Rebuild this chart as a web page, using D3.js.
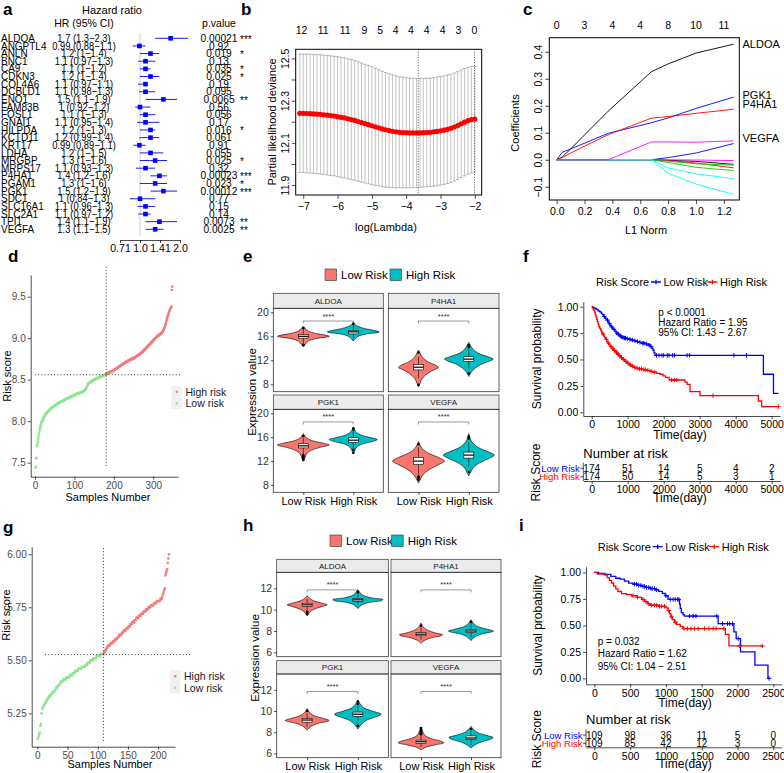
<!DOCTYPE html>
<html>
<head>
<meta charset="utf-8">
<script src="https://cdn.jsdelivr.net/npm/d3@7"></script>
<style>
  body { margin: 0; background: #fff; }
</style>
</head>
<body>
<svg id="fig" width="784" height="773"></svg>
<script>
// ---------------- data: a (univariate cox) ----------------
const genes = ["ALDOA","ANGPTL4","ANLN","BNC1","CA9","CDKN3","COL4A6","DCBLD1","ENO1","FAM83B","FOSL1","GNAI1","HILPDA","KCTD11","KRT17","LDHA","MRGBP","MRPS17","P4HA1","PGAM1","PGK1","SDC1","SLC16A1","SLC2A1","TPI1","VEGFA"];
const hrEst  = [1.7,0.99,1.2,1.1,1.1,1.2,1.1,1.1,1.5,1,1.1,1.1,1.2,1.2,0.99,1.2,1.3,1.1,1.4,1.3,1.5,1,1.1,1.1,1.4,1.3];
const hrLow  = [1.3,0.88,1,0.97,1,1,0.97,0.98,1.1,0.92,1,0.95,1,0.99,0.89,1,1,0.93,1.2,1,1.2,0.84,0.96,0.97,1.1,1.1];
const hrHigh = [2.3,1.1,1.4,1.3,1.2,1.4,1.1,1.3,1.9,1.2,1.3,1.4,1.3,1.4,1.1,1.5,1.6,1.3,1.6,1.6,1.9,1.3,1.3,1.2,1.9,1.5];
const pValues = ["0.00021","0.92","0.019","0.13","0.035","0.025","0.19","0.095","0.0065","0.56","0.056","0.17","0.016","0.061","0.91","0.055","0.025","0.32","0.00023","0.023","0.00012","0.77","0.15","0.14","0.0073","0.0025"];
const forestTicks = [0.7071, 1, 1.4142, 2];
const forestTickLabels = ["0.71", "1.0", "1.41", "2.0"];

// ---------------- data: b (cv.glmnet) ----------------
const lambdaLog = [-7.1,-7.0,-6.9,-6.8,-6.7,-6.6,-6.5,-6.4,-6.3,-6.2,-6.1,-6.0,-5.9,-5.8,-5.7,-5.6,-5.5,-5.4,-5.3,-5.2,-5.1,-5.0,-4.9,-4.8,-4.7,-4.6,-4.5,-4.4,-4.3,-4.2,-4.1,-4.0,-3.9,-3.8,-3.7,-3.6,-3.5,-3.4,-3.3,-3.2,-3.1,-3.0,-2.9,-2.8,-2.7,-2.6,-2.5,-2.4,-2.3,-2.2,-2.1,-2.0];
const cvMean = [12.240,12.240,12.239,12.238,12.237,12.236,12.235,12.233,12.231,12.229,12.227,12.224,12.221,12.218,12.214,12.210,12.206,12.201,12.196,12.191,12.186,12.181,12.176,12.171,12.166,12.162,12.158,12.155,12.152,12.150,12.149,12.148,12.147,12.147,12.147,12.147,12.148,12.149,12.150,12.152,12.154,12.157,12.160,12.164,12.169,12.175,12.182,12.190,12.198,12.205,12.210,12.212];
const cvSd = [0.280,0.280,0.281,0.281,0.281,0.282,0.282,0.282,0.283,0.283,0.283,0.284,0.284,0.284,0.284,0.284,0.283,0.283,0.282,0.281,0.280,0.279,0.277,0.275,0.273,0.271,0.269,0.267,0.265,0.263,0.262,0.261,0.260,0.259,0.258,0.258,0.257,0.257,0.257,0.257,0.257,0.257,0.257,0.257,0.256,0.256,0.255,0.255,0.254,0.253,0.252,0.250];
const nzCount = ["12","11","11","9","5","4","4","4","4","3","0"];
const nzAt = [-7.05,-6.42,-5.78,-5.22,-4.76,-4.31,-3.86,-3.40,-2.94,-2.48,-2.01];
const lambdaMin = -3.65, lambda1se = -2.01;

// ---------------- data: c (coefficient paths) ----------------
const l1Norm = [0, 0.04, 0.1, 0.37, 0.68, 0.8, 1.0, 1.27];
const pathColors = ["#000000","#0000FF","#FF0000","#0000FF","#000000","#FF0000","#00CD00","#00CD00","#FF00FF","#00FFFF","#00FFFF","#FF00FF"];
const pathCoefs = [
  [0, 0.01, 0.04, 0.18, 0.326, 0.355, 0.395, 0.428],    // ALDOA
  [0, 0.028, 0.04, 0.098, 0.137, 0.155, 0.19, 0.232],   // PGK1
  [0, 0.008, 0.025, 0.093, 0.154, 0.16, 0.172, 0.187],  // P4HA1
  [0, 0, 0, 0, 0, 0.008, 0.025, 0.06],
  [0, 0, 0, 0, 0, -0.002, -0.006, -0.017],
  [0, 0, 0, 0, 0, -0.003, -0.012, -0.03],
  [0, 0, 0, 0, 0, -0.01, -0.028, -0.04],
  [0, 0, 0, 0, 0, -0.005, -0.015, -0.02],
  [0, 0, 0, 0, 0, 0, -0.001, -0.003],
  [0, 0, 0, 0, 0, -0.03, -0.052, -0.07],
  [0, 0, 0, 0, 0, -0.05, -0.09, -0.128],
  [0, 0, 0, 0, 0.066, 0.066, 0.065, 0.07]               // VEGFA
];
const pathLabels = ["ALDOA", "PGK1", "P4HA1", "VEGFA"];
const pathLabelAt = [0.43, 0.24, 0.205, 0.082];
const l1Top = ["0", "3", "4", "4", "8", "10", "11"];

// ---------------- data: d (training risk score) ----------------
const dLowScore = [7.44,7.45,7.55,7.56,7.70,7.72,7.75,7.78,7.81,7.84,
  7.87,7.90,7.92,7.94,7.96,7.98,7.99,8.00,8.01,8.02,
  8.03,8.04,8.05,8.06,8.07,8.08,8.08,8.09,8.10,8.10,
  8.11,8.11,8.12,8.12,8.13,8.13,8.14,8.14,8.15,8.15,
  8.16,8.16,8.16,8.17,8.17,8.17,8.18,8.18,8.18,8.19,
  8.19,8.19,8.20,8.20,8.20,8.21,8.21,8.21,8.22,8.22,
  8.22,8.22,8.23,8.23,8.23,8.23,8.24,8.24,8.24,8.24,
  8.25,8.25,8.25,8.25,8.26,8.26,8.26,8.26,8.27,8.27,
  8.27,8.27,8.28,8.28,8.28,8.28,8.29,8.29,8.29,8.29,
  8.30,8.30,8.30,8.30,8.30,8.31,8.31,8.31,8.31,8.31,
  8.32,8.32,8.32,8.32,8.33,8.33,8.33,8.33,8.33,8.34,
  8.34,8.34,8.34,8.34,8.34,8.35,8.35,8.35,8.35,8.35,
  8.35,8.36,8.36,8.36,8.37,8.37,8.38,8.38,8.39,8.40,
  8.41,8.42,8.43,8.44,8.45,8.45,8.46,8.46,8.47,8.47,
  8.47,8.48,8.48,8.48,8.49,8.49,8.49,8.49,8.50,8.50,
  8.50,8.50,8.51,8.51,8.51,8.51,8.52,8.52,8.52,8.52,
  8.52,8.53,8.53,8.53,8.53,8.53,8.54,8.54,8.54,8.54,
  8.54,8.55,8.55,8.55,8.55,8.55,8.56,8.56,8.56,8.56];
const dHighScore = [8.57,8.57,8.57,8.58,8.58,8.58,8.58,8.59,8.59,8.59,
  8.59,8.60,8.60,8.60,8.60,8.60,8.61,8.61,8.61,8.61,
  8.62,8.62,8.62,8.63,8.63,8.63,8.64,8.64,8.64,8.65,
  8.65,8.65,8.66,8.66,8.66,8.67,8.67,8.67,8.68,8.68,
  8.68,8.68,8.69,8.69,8.69,8.70,8.70,8.70,8.71,8.71,
  8.71,8.72,8.72,8.72,8.72,8.73,8.73,8.73,8.73,8.74,
  8.74,8.74,8.74,8.74,8.75,8.75,8.75,8.75,8.76,8.76,
  8.76,8.76,8.77,8.77,8.77,8.78,8.78,8.78,8.79,8.79,
  8.79,8.80,8.80,8.80,8.81,8.81,8.81,8.82,8.82,8.82,
  8.83,8.83,8.84,8.84,8.85,8.85,8.86,8.86,8.87,8.87,
  8.88,8.88,8.89,8.89,8.90,8.90,8.91,8.91,8.92,8.92,
  8.93,8.93,8.94,8.94,8.95,8.95,8.96,8.96,8.97,8.97,
  8.98,8.98,8.99,8.99,9.00,9.00,9.01,9.01,9.02,9.02,
  9.03,9.03,9.03,9.04,9.04,9.04,9.05,9.05,9.05,9.06,
  9.06,9.07,9.07,9.08,9.09,9.10,9.11,9.12,9.13,9.15,
  9.16,9.18,9.20,9.22,9.24,9.26,9.27,9.28,9.30,9.32,
  9.33,9.34,9.35,9.36,9.37,9.38,9.58,9.62];
const dCut = 8.56;

// ---------------- data: g (validation risk score) ----------------
const gLowScore = [5.13,5.14,5.15,5.16,5.19,5.20,5.25,5.27,5.28,5.28,
  5.29,5.29,5.30,5.30,5.31,5.31,5.32,5.32,5.33,5.33,
  5.33,5.34,5.34,5.34,5.35,5.35,5.35,5.35,5.36,5.36,
  5.37,5.37,5.37,5.38,5.38,5.38,5.39,5.39,5.40,5.40,
  5.40,5.40,5.41,5.41,5.41,5.41,5.41,5.42,5.42,5.42,
  5.42,5.42,5.42,5.43,5.43,5.43,5.43,5.43,5.44,5.44,
  5.44,5.44,5.45,5.45,5.45,5.45,5.45,5.46,5.46,5.46,
  5.46,5.46,5.46,5.47,5.47,5.47,5.47,5.47,5.47,5.48,
  5.48,5.48,5.48,5.49,5.49,5.49,5.49,5.50,5.50,5.50,
  5.50,5.50,5.51,5.51,5.51,5.51,5.51,5.52,5.52,5.52,
  5.52,5.52,5.52,5.52,5.53,5.53,5.53,5.53,5.53];
const gHighScore = [5.53,5.54,5.54,5.55,5.55,5.56,5.56,5.57,5.57,5.57,
  5.57,5.58,5.58,5.58,5.58,5.59,5.59,5.59,5.59,5.60,
  5.60,5.60,5.60,5.61,5.61,5.61,5.62,5.62,5.62,5.62,
  5.63,5.63,5.63,5.64,5.64,5.64,5.64,5.65,5.65,5.65,
  5.65,5.66,5.66,5.66,5.67,5.67,5.67,5.68,5.68,5.68,
  5.68,5.69,5.69,5.69,5.70,5.70,5.70,5.70,5.71,5.71,
  5.71,5.71,5.72,5.72,5.72,5.72,5.73,5.73,5.73,5.73,
  5.74,5.74,5.74,5.74,5.75,5.75,5.75,5.75,5.76,5.76,
  5.76,5.76,5.76,5.77,5.77,5.77,5.77,5.77,5.78,5.78,
  5.78,5.78,5.78,5.78,5.79,5.79,5.79,5.80,5.81,5.82,
  5.83,5.84,5.90,5.91,5.92,5.93,5.96,5.98,6.00];
const gCut = 5.527;

// ---------------- data: e / h (violins) ----------------
const violinGenes = ["ALDOA", "P4HA1", "PGK1", "VEGFA"];
const groups = ["Low Risk", "High Risk"];
// [expression, relative density]
const eLowShape = [
  [[14.3,0],[14.7,0.08],[15.2,0.19],[15.6,0.46],[15.9,0.92],[16.0,1],[16.2,0.85],[16.5,0.46],[16.9,0.19],[17.3,0.08],[17.6,0]],
  [[7.6,0],[8.2,0.06],[9.0,0.15],[9.8,0.35],[10.4,0.58],[10.8,0.77],[11.2,0.65],[11.8,0.35],[12.5,0.15],[13.2,0.06],[13.7,0]],
  [[12.0,0],[12.5,0.06],[13.2,0.12],[13.8,0.31],[14.3,0.65],[14.7,1],[15.0,0.77],[15.4,0.35],[15.9,0.12],[16.6,0]],
  [[8.3,0],[9.0,0.08],[9.8,0.19],[10.6,0.42],[11.4,0.77],[12.0,1],[12.6,0.77],[13.4,0.35],[14.2,0.12],[15.3,0]]];
const eHighShape = [
  [[15.2,0],[15.6,0.08],[16.0,0.19],[16.4,0.5],[16.65,0.96],[16.75,1],[17.0,0.77],[17.4,0.35],[17.8,0.12],[18.3,0]],
  [[9.3,0],[9.8,0.06],[10.5,0.19],[11.3,0.46],[11.9,0.81],[12.2,0.94],[12.6,0.73],[13.2,0.35],[13.9,0.15],[14.5,0.06],[15.0,0]],
  [[13.2,0],[13.8,0.06],[14.4,0.15],[14.9,0.38],[15.3,0.77],[15.6,0.92],[15.9,0.69],[16.4,0.27],[17.0,0.08],[17.7,0]],
  [[9.5,0],[10.2,0.08],[11.0,0.19],[11.8,0.46],[12.5,0.81],[13.0,0.98],[13.5,0.77],[14.3,0.35],[15.2,0.12],[16.6,0]]];
// [q1, median, q3, whisker low, whisker high]
const eLowBox = [[15.7,16.0,16.3,14.8,17.2],[10.4,10.85,11.3,9.0,12.6],[14.2,14.55,14.9,13.2,15.9],[11.4,12.0,12.6,9.7,14.3]];
const eHighBox = [[16.4,16.75,17.0,15.6,17.9],[11.8,12.2,12.6,10.5,13.8],[15.1,15.5,15.9,14.2,17.0],[12.5,13.0,13.5,11.0,15.2]];
const eLowOut = [[14.5,14.6,17.4],[7.9,13.3],[12.2,12.4,12.6,12.8,13.0,16.2],[8.9,9.2,9.4,14.8]];
const eHighOut = [[18.1],[9.8,14.2,14.5],[13.4,13.9,17.3,17.5],[10.2,15.8,16.1]];

const hLowShape = [
  [[9.4,0],[9.7,0.08],[10.0,0.23],[10.3,0.58],[10.45,0.77],[10.6,0.58],[10.85,0.23],[11.1,0.08],[11.3,0]],
  [[6.85,0],[7.1,0.12],[7.35,0.38],[7.55,0.77],[7.65,0.83],[7.8,0.58],[8.1,0.23],[8.4,0.08],[8.75,0]],
  [[8.2,0],[8.5,0.12],[8.8,0.38],[9.0,0.73],[9.1,0.85],[9.3,0.62],[9.6,0.23],[9.9,0.08],[10.25,0]],
  [[6.3,0],[6.55,0.15],[6.8,0.54],[7.0,0.88],[7.15,0.77],[7.4,0.38],[7.7,0.15],[8.1,0.06],[8.5,0]]];
const hHighShape = [
  [[10.1,0],[10.4,0.12],[10.65,0.38],[10.85,0.92],[10.95,0.96],[11.1,0.54],[11.35,0.19],[11.6,0.08],[11.85,0]],
  [[7.1,0],[7.4,0.12],[7.7,0.38],[7.9,0.77],[8.0,0.87],[8.15,0.65],[8.45,0.23],[8.75,0.08],[9.05,0]],
  [[8.3,0],[8.7,0.12],[9.1,0.31],[9.45,0.69],[9.7,0.9],[9.95,0.62],[10.3,0.23],[10.7,0.08],[11.05,0]],
  [[6.5,0],[6.8,0.15],[7.1,0.42],[7.35,0.77],[7.5,0.85],[7.7,0.58],[8.0,0.23],[8.3,0.08],[8.55,0]]];
const hLowBox = [[10.3,10.45,10.6,9.95,11.0],[7.55,7.7,7.85,7.2,8.3],[8.95,9.15,9.3,8.5,9.8],[6.95,7.1,7.25,6.6,7.7]];
const hHighBox = [[10.78,10.92,11.05,10.4,11.45],[7.85,8.0,8.15,7.45,8.6],[9.5,9.7,9.9,8.9,10.5],[7.3,7.45,7.65,6.8,8.1]];
const hLowOut = [[9.6,9.7,9.8],[8.5],[10.0],[7.8,7.9,8.0,8.1,8.2,8.3,8.4]];
const hHighOut = [[11.6,11.7],[8.85],[8.6,10.7,10.9],[8.3]];

// ---------------- data: f / i (Kaplan-Meier) ----------------
const fLowT = [0,30,60,90,120,150,180,210,240,270,300,330,360,390,420,450,480,510,540,570,600,640,680,720,760,800,850,900,960,1020,1100,1160,1230,1300,1380,1480,1570,1630,1670,1700,1730,1760,4770,5050];
const fLowS = [1.000,0.994,0.989,0.983,0.977,0.971,0.960,0.954,0.948,0.936,0.925,0.907,0.895,0.884,0.872,0.855,0.838,0.820,0.808,0.797,0.785,0.768,0.750,0.738,0.726,0.715,0.709,0.703,0.697,0.691,0.684,0.678,0.670,0.662,0.654,0.647,0.635,0.622,0.608,0.590,0.562,0.539,0.360,0.180];
const fHighT = [0,20,40,60,80,100,120,140,160,180,200,225,250,275,300,330,360,390,420,450,480,520,560,600,650,700,750,800,860,920,980,1040,1100,1160,1220,1300,1420,1520,1620,1700,1800,1900,1980,2050,2150,2590,2650,2730,3010,4630,4720];
const fHighS = [1.000,0.988,0.977,0.965,0.948,0.925,0.902,0.879,0.856,0.833,0.810,0.793,0.776,0.759,0.741,0.724,0.707,0.690,0.672,0.655,0.638,0.621,0.603,0.586,0.569,0.552,0.535,0.517,0.500,0.483,0.466,0.448,0.437,0.425,0.418,0.411,0.404,0.397,0.388,0.379,0.369,0.360,0.345,0.330,0.306,0.285,0.265,0.196,0.158,0.107,0.054];
const fLowCens = [350,440,500,560,620,700,740,790,830,870,910,940,990,1060,1130,1200,1270,1340,1420,1450,1520,1600,1650,1800,1870,1950,2000,2100,2150,2250,2300,2650,2720,3950,4300];
const fHighCens = [320,410,470,540,590,630,690,730,780,830,890,950,1010,1080,1140,1200,1260,1330,1380,1450,1490,1560,1650,1750,2220,2300,2360,3370,5185];
const fEnd = [5185, 5185];
const fTableT = [0,1000,2000,3000,4000,5000];
const fLowRisk = [174,51,14,5,4,2];
const fHighRisk = [174,50,14,5,3,1];
const fStats = ["p < 0.0001", "Hazard Ratio = 1.95", "95% CI: 1.43 \u2212 2.67"];

const iLowT = [0,60,150,230,300,360,420,480,540,600,660,720,780,850,900,950,990,1030,1190,1200,1215,1240,1260,1729,1949,1981,2042,2243,2425];
const iLowS = [1.000,0.991,0.982,0.963,0.945,0.936,0.917,0.899,0.889,0.878,0.868,0.858,0.848,0.836,0.822,0.803,0.780,0.745,0.700,0.660,0.620,0.600,0.588,0.516,0.438,0.375,0.250,0.125,0.0];
const iHighT = [0,40,150,180,210,240,270,300,330,380,450,520,600,660,700,740,770,900,1000,1030,1050,1070,1090,1120,1150,1200,1240,1830,1880];
const iHighS = [1.000,0.985,0.975,0.950,0.925,0.900,0.870,0.845,0.820,0.800,0.790,0.780,0.765,0.745,0.725,0.705,0.690,0.680,0.665,0.640,0.610,0.580,0.555,0.530,0.510,0.490,0.470,0.416,0.306];
const iLowCens = [560,590,620,650,680,700,730,760,790,810,840,870,1000,1060,1100,1130,1160,1180,1330,1380,1420,1710,1790,1860,1890,1930,2010,2440];
const iHighCens = [540,600,680,720,760,800,840,870,910,940,980,1040,1080,1130,1250,1300,1350,1400,1450,1540,1600,1660,1700,1810,2030,2346];
const iEnd = [2440, 2346];
const iTableT = [0,500,1000,1500,2000,2500];
const iLowRisk = [109,98,36,11,5,0];
const iHighRisk = [109,85,42,12,3,0];
const iStats = ["p = 0.032", "Hazard Ratio = 1.62", "95% CI: 1.04 \u2212 2.51"];

// ======================================================================
const FONT = "'Liberation Sans', Arial, Helvetica, sans-serif";
const svg = d3.select("#fig").attr("font-family", FONT);
svg.append("rect").attr("width", 784).attr("height", 773).attr("fill", "#fff");

function addText(g, x, y, s, size, o = {}) {
  const t = g.append("text").attr("x", x).attr("y", y).attr("font-size", size).text(s);
  if (o.anchor) t.attr("text-anchor", o.anchor);
  if (o.fill) t.attr("fill", o.fill);
  if (o.bold) t.attr("font-weight", "bold");
  if (o.rot) t.attr("transform", `rotate(${o.rot},${x},${y})`);
  return t;
}
function styleAxis(ax, size, color) {
  ax.attr("font-family", FONT).attr("font-size", size);
  ax.selectAll(".domain, .tick line").attr("stroke", "#000").attr("stroke-width", 0.7);
  ax.selectAll(".tick text").attr("fill", color);
  return ax;
}
// rotate base-R style y labels
function rotateLabels(ax, off) {
  ax.selectAll(".tick text").attr("x", 0).attr("y", -off).attr("dy", 0)
    .attr("text-anchor", "middle").attr("transform", "rotate(-90)");
}
// squeeze text horizontally (the figure uses a narrow face)
function squeeze(sel, k) {
  sel.each(function () {
    const w = this.getComputedTextLength();
    d3.select(this).attr("textLength", w * k).attr("lengthAdjust", "spacingAndGlyphs");
  });
}

// panel letters
const letters = ["a","b","c","d","e","f","g","h","i"];
const letterPos = [[3,15],[241,15],[523,15],[8,262],[243,262],[523,262],[3,533],[243,531],[519,531]];
letters.forEach((l, i) => addText(svg, letterPos[i][0], letterPos[i][1], l, 17, {bold: true}));

// ---------------- a ----------------
{
  const g = svg.append("g");
  const rowY = i => 38.3 + i * 7.64;
  const x = d3.scaleLog().base(2).domain([0.7071, 2]).range([120, 180]);
  addText(g, 112, 14, "Hazard ratio", 11, {anchor: "middle"});
  addText(g, 84, 27, "HR (95% CI)", 10.5, {anchor: "middle"});
  addText(g, 219, 27, "p.value", 10.5, {anchor: "middle"});
  g.append("line").attr("x1", x(1)).attr("x2", x(1)).attr("y1", 33).attr("y2", 236)
    .attr("stroke", "#c4c4c4").attr("stroke-width", 0.8);

  const gn = g.selectAll(".gn").data(genes).join("text").attr("x", 1).attr("y", (d, i) => rowY(i) + 3.6)
    .attr("font-size", 10.5).text(d => d);
  squeeze(gn, 0.95);
  const ht = g.selectAll(".hr").data(genes).join("text").attr("x", 84).attr("y", (d, i) => rowY(i) + 3.6)
    .attr("font-size", 10.5).attr("text-anchor", "middle")
    .text((d, i) => `${hrEst[i]} (${hrLow[i]}\u2212${hrHigh[i]})`);
  squeeze(ht, 0.89);
  const pv = g.selectAll(".pv").data(pValues).join("text").attr("x", 219).attr("y", (d, i) => rowY(i) + 3.6)
    .attr("font-size", 10.5).attr("text-anchor", "middle").text(d => d);
  squeeze(pv, 0.97);
  const stars = p => p < 0.001 ? "***" : p < 0.01 ? "**" : p < 0.05 ? "*" : "";
  g.selectAll(".st").data(pValues).join("text").attr("x", 240).attr("y", (d, i) => rowY(i) + 4.5)
    .attr("font-size", 10).text(d => stars(+d));
  g.selectAll(".ci").data(genes).join("line")
    .attr("x1", (d, i) => x(hrLow[i])).attr("x2", (d, i) => x(hrHigh[i]))
    .attr("y1", (d, i) => rowY(i)).attr("y2", (d, i) => rowY(i))
    .attr("stroke", "#0000FF").attr("stroke-width", 0.9);
  g.selectAll(".sq").data(genes).join("rect")
    .attr("x", (d, i) => x(hrEst[i]) - 2.3).attr("y", (d, i) => rowY(i) - 2.3)
    .attr("width", 4.6).attr("height", 4.6).attr("fill", "#0000FF");
  const ax = g.append("g").attr("transform", "translate(0,240)")
    .call(d3.axisBottom(x).tickValues(forestTicks).tickFormat((d, i) => forestTickLabels[i]).tickSize(3).tickSizeOuter(0).tickPadding(2));
  styleAxis(ax, 10.5, "#000");
}

// ---------------- b ----------------
{
  const g = svg.append("g");
  const x = d3.scaleLinear().domain([-7.22, -1.80]).range([295.7, 481.7]);
  const y = d3.scaleLinear().domain([11.853, 12.543]).range([195, 49.3]);
  const ebColor = "#aaaaaa";
  g.selectAll(".eb").data(lambdaLog).join("line")
    .attr("x1", d => x(d)).attr("x2", d => x(d))
    .attr("y1", (d, i) => y(cvMean[i] + cvSd[i])).attr("y2", (d, i) => y(cvMean[i] - cvSd[i]))
    .attr("stroke", ebColor).attr("stroke-width", 0.7);
  [1, -1].forEach(sgn => {
    g.selectAll(null).data(lambdaLog).join("line")
      .attr("x1", d => x(d) - 1.7).attr("x2", d => x(d) + 1.7)
      .attr("y1", (d, i) => y(cvMean[i] + sgn * cvSd[i])).attr("y2", (d, i) => y(cvMean[i] + sgn * cvSd[i]))
      .attr("stroke", ebColor).attr("stroke-width", 0.9);
  });
  g.selectAll(".cvm").data(lambdaLog).join("circle")
    .attr("cx", d => x(d)).attr("cy", (d, i) => y(cvMean[i])).attr("r", 2.6).attr("fill", "#FF0000");
  [lambdaMin, lambda1se].forEach(v => g.append("line").attr("x1", x(v)).attr("x2", x(v))
    .attr("y1", 49.3).attr("y2", 195).attr("stroke", "#333").attr("stroke-width", 0.8).attr("stroke-dasharray", "1,1.6"));
  g.append("rect").attr("x", 295.7).attr("y", 49.3).attr("width", 186).attr("height", 145.7)
    .attr("fill", "none").attr("stroke", "#000").attr("stroke-width", 1);
  const bx = g.append("g").attr("transform", "translate(0,195)")
    .call(d3.axisBottom(x).tickValues([-7, -6, -5, -4, -3, -2]).tickFormat(d3.format("d")).tickSize(4).tickPadding(4));
  styleAxis(bx, 10.5, "#000"); bx.select(".domain").remove();
  const yTicks = [11.9, 12.0, 12.1, 12.2, 12.3, 12.4, 12.5];
  const shown = [11.9, 12.1, 12.3, 12.5];
  const by = g.append("g").attr("transform", "translate(295.7,0)")
    .call(d3.axisLeft(y).tickValues(yTicks).tickFormat(d => shown.includes(d) ? d.toFixed(1) : "").tickSize(4));
  styleAxis(by, 10.5, "#000"); by.select(".domain").remove(); rotateLabels(by, 7);
  g.selectAll(".nz").data(nzCount).join("text").attr("x", (d, i) => x(nzAt[i])).attr("y", 34)
    .attr("text-anchor", "middle").attr("font-size", 10.5).text(d => d);
  addText(g, 276, 122, "Partial likelihood deviance", 11, {anchor: "middle", rot: -90});
  addText(g, 386, 231, "log(Lambda)", 11, {anchor: "middle"});
}

// ---------------- c ----------------
{
  const g = svg.append("g");
  const x = d3.scaleLinear().domain([-0.053, 1.311]).range([549.3, 739.3]);
  const y = d3.scaleLinear().domain([-0.149, 0.452]).range([200, 37.7]);
  const line = d3.line().x((d, i) => x(l1Norm[i])).y(d => y(d));
  pathCoefs.forEach((c, k) => g.append("path").attr("d", line(c)).attr("fill", "none")
    .attr("stroke", pathColors[k]).attr("stroke-width", 0.9));
  g.append("rect").attr("x", 549.3).attr("y", 37.7).attr("width", 190).attr("height", 162.3)
    .attr("fill", "none").attr("stroke", "#000").attr("stroke-width", 1);
  const bx = g.append("g").attr("transform", "translate(0,200)")
    .call(d3.axisBottom(x).tickValues([0, 0.2, 0.4, 0.6, 0.8, 1.0, 1.2]).tickFormat(d3.format(".1f")).tickSize(4).tickPadding(4));
  styleAxis(bx, 10.5, "#000"); bx.select(".domain").remove();
  const by = g.append("g").attr("transform", "translate(549.3,0)")
    .call(d3.axisLeft(y).tickValues([-0.1, 0, 0.1, 0.2, 0.3, 0.4]).tickFormat(d3.format(".1f")).tickSize(4));
  styleAxis(by, 10.5, "#000"); by.select(".domain").remove(); rotateLabels(by, 7);
  g.selectAll(".tp").data(l1Top).join("text").attr("x", (d, i) => x(i * 0.2)).attr("y", 29)
    .attr("text-anchor", "middle").attr("font-size", 10.5).text(d => d);
  g.selectAll(".pl").data(pathLabels).join("text").attr("x", 742.5).attr("y", (d, i) => y(pathLabelAt[i]) + 4)
    .attr("font-size", 11).text(d => d);
  addText(g, 519, 123, "Coefficients", 11, {anchor: "middle", rot: -90});
  addText(g, 646, 234, "L1 Norm", 11, {anchor: "middle"});
}

// ---------------- d & g : risk score scatter ----------------
function riskScatter(c) {
  const g = svg.append("g");
  const x = d3.scaleLinear().domain(c.xDom).range(c.xRange);
  const y = d3.scaleLinear().domain(c.yDom).range(c.yRange);
  const nLow = c.low.length;
  const pts = c.low.map((v, i) => ({n: i + 1, v, hi: false}))
    .concat(c.high.map((v, i) => ({n: nLow + i + 1, v, hi: true})));
  g.selectAll("circle").data(pts).join("circle").attr("cx", d => x(d.n)).attr("cy", d => y(d.v))
    .attr("r", 1.3).attr("fill", d => d.hi ? "#F47A7A" : "#8DE68D");
  g.append("line").attr("x1", c.hLine[0]).attr("x2", c.hLine[1]).attr("y1", y(c.cut)).attr("y2", y(c.cut))
    .attr("stroke", "#222").attr("stroke-width", 0.9).attr("stroke-dasharray", "1,2.2");
  g.append("line").attr("x1", x(nLow + 0.5)).attr("x2", x(nLow + 0.5)).attr("y1", c.vLine[0]).attr("y2", c.vLine[1])
    .attr("stroke", "#222").attr("stroke-width", 0.9).attr("stroke-dasharray", "1,2.2");
  const ax = g.append("g").attr("transform", `translate(0,${c.yRange[0]})`)
    .call(d3.axisBottom(x).tickValues(c.xTicks).tickSize(3).tickSizeOuter(0).tickPadding(2));
  styleAxis(ax, 10, "#4d4d4d");
  const ay = g.append("g").attr("transform", `translate(${c.xRange[0]},0)`)
    .call(d3.axisLeft(y).tickValues(c.yTicks).tickFormat(d3.format(c.yFmt)).tickSize(3).tickSizeOuter(0).tickPadding(2));
  styleAxis(ay, 10, "#4d4d4d");
  addText(g, c.yTitle[0], c.yTitle[1], "Risk score", 11, {anchor: "middle", rot: -90});
  addText(g, c.xTitle[0], c.xTitle[1], "Samples Number", 11, {anchor: "middle"});
  const [lx, ly] = c.legend;
  ["High risk", "Low risk"].forEach((s, k) => {
    g.append("rect").attr("x", lx).attr("y", ly + k * 11.5).attr("width", 10.5).attr("height", 11.5).attr("fill", "#f0f0f0");
    g.append("circle").attr("cx", lx + 5.25).attr("cy", ly + k * 11.5 + 5.75).attr("r", 1.2)
      .attr("fill", k === 0 ? "#F47A7A" : "#8DE68D");
    addText(g, lx + 14, ly + k * 11.5 + 9.5, s, 10.5, {fill: "#1a1a1a"});
  });
}
riskScatter({low: dLowScore, high: dHighScore, cut: dCut,
  xDom: [-10.9, 362.7], xRange: [30.7, 178], yDom: [7.331, 9.761], yRange: [476.7, 275],
  xTicks: [0, 100, 200, 300], yTicks: [7.5, 8, 8.5, 9, 9.5], yFmt: ".1f",
  hLine: [35, 180], vLine: [266.7, 467], yTitle: [11, 376], xTitle: [108, 500.5], legend: [171.5, 386]});
riskScatter({low: gLowScore, high: gHighScore, cut: gCut,
  xDom: [-9.3, 228], xRange: [31.7, 175], yDom: [5.0925, 6.036], yRange: [746.7, 546.7],
  xTicks: [0, 50, 100, 150, 200], yTicks: [5.25, 5.5, 5.75, 6.0], yFmt: ".2f",
  hLine: [45, 190], vLine: [548, 742], yTitle: [10, 615], xTitle: [110, 768], legend: [170, 670.5]});

// ---------------- e & h : violins ----------------
function violinFacets(c) {
  const g = svg.append("g");
  const fills = ["#F8766D", "#00BFC4"];
  violinGenes.forEach((gene, k) => {
    const col = k % 2, row = Math.floor(k / 2);
    const [x0, x1] = c.cols[col];
    const [sTop, pTop, pBot] = c.rows[row];
    const y = d3.scaleLinear().domain(c.yDom).range([pBot, pTop]);
    const xc = d3.scaleLinear().domain([0.4, 2.6]).range([x0, x1]);
    g.append("rect").attr("x", x0).attr("y", sTop).attr("width", x1 - x0).attr("height", pTop - sTop)
      .attr("fill", "#ebebeb").attr("stroke", "#333").attr("stroke-width", 0.7);
    addText(g, (x0 + x1) / 2, (sTop + pTop) / 2 + 2.8, gene, 8, {anchor: "middle", fill: "#1a1a1a"});
    [0, 1].forEach(j => {
      const cx = xc(j + 1);
      const area = d3.area().y(d => y(d[0])).x0(d => cx - d[1] * 26).x1(d => cx + d[1] * 26).curve(d3.curveCatmullRom);
      g.append("path").attr("d", area(c.shapes[j][k])).attr("fill", fills[j]).attr("stroke", "#000").attr("stroke-width", 0.6);
      const [q1, med, q3, wlo, whi] = c.boxes[j][k];
      g.append("line").attr("x1", cx).attr("x2", cx).attr("y1", y(wlo)).attr("y2", y(whi)).attr("stroke", "#000").attr("stroke-width", 0.6);
      g.append("rect").attr("x", cx - 5).attr("y", y(q3)).attr("width", 10).attr("height", y(q1) - y(q3))
        .attr("fill", "#fff").attr("stroke", "#000").attr("stroke-width", 0.6);
      g.append("line").attr("x1", cx - 5).attr("x2", cx + 5).attr("y1", y(med)).attr("y2", y(med)).attr("stroke", "#000").attr("stroke-width", 1.2);
      g.selectAll(null).data(c.outs[j][k]).join("circle").attr("cx", cx).attr("cy", d => y(d)).attr("r", 1.3).attr("fill", "#000");
    });
    const by = y(c.bracket);
    g.append("path").attr("d", `M${xc(1)},${by + 2.5}V${by}H${xc(2)}V${by + 2.5}`)
      .attr("fill", "none").attr("stroke", "#555").attr("stroke-width", 0.6);
    addText(g, (xc(1) + xc(2)) / 2, by - 2.5, "****", 7.5, {anchor: "middle", fill: "#333"});
    g.append("rect").attr("x", x0).attr("y", pTop).attr("width", x1 - x0).attr("height", pBot - pTop)
      .attr("fill", "none").attr("stroke", "#333").attr("stroke-width", 0.8);
    if (row === 1) {
      const ax = g.append("g").attr("transform", `translate(0,${pBot})`)
        .call(d3.axisBottom(xc).tickValues([1, 2]).tickFormat((d, i) => groups[i]).tickSize(2.5).tickPadding(2));
      styleAxis(ax, 11, "#000"); ax.select(".domain").remove();
    }
    if (col === 0) {
      const ay = g.append("g").attr("transform", `translate(${x0},0)`)
        .call(d3.axisLeft(y).tickValues(c.yTicks).tickSize(2.5).tickPadding(2));
      styleAxis(ay, 10.5, "#333"); ay.select(".domain").remove();
    }
  });
  addText(g, c.yTitle[0], c.yTitle[1], "Expression value", 11.5, {anchor: "middle", rot: -90});
  groups.forEach((s, j) => {
    const [lx, ly] = c.legend[j];
    g.append("rect").attr("x", lx).attr("y", ly).attr("width", 11.5).attr("height", 11.5)
      .attr("fill", fills[j]).attr("stroke", "#333").attr("stroke-width", 0.6);
    addText(g, lx + 16, ly + 10, s, 11.5);
  });
}
violinFacets({shapes: [eLowShape, eHighShape], boxes: [eLowBox, eHighBox], outs: [eLowOut, eHighOut],
  cols: [[273.3, 383.3], [388.3, 499]], rows: [[293.3, 308.3, 391.7], [395, 409.3, 492.3]],
  yDom: [6.77, 20.67], yTicks: [8, 12, 16, 20], bracket: 18.55,
  yTitle: [256, 392], legend: [[325, 269], [390, 269]]});
violinFacets({shapes: [hLowShape, hHighShape], boxes: [hLowBox, hHighBox], outs: [hLowOut, hHighOut],
  cols: [[276.7, 388.3], [391, 501]], rows: [[559.3, 572.3, 656.7], [660.7, 674, 757.7]],
  yDom: [5.59, 13.5], yTicks: [6, 8, 10, 12], bracket: 11.85,
  yTitle: [259, 658], legend: [[330, 535], [391.7, 535]]});

// ---------------- f & i : Kaplan-Meier ----------------
function kmPanel(c) {
  const g = svg.append("g");
  const x = d3.scaleLinear().domain(c.xDom).range(c.xRange);
  const y = d3.scaleLinear().domain(c.yDom).range(c.yRange);
  const colors = ["#0000FF", "#FF0000"];
  const line = d3.line().x(d => x(d[0])).y(d => y(d[1])).curve(d3.curveStepAfter);
  c.curves.forEach((cv, j) => {
    const [t, s] = cv;
    const pts = t.map((v, i) => [v, s[i]]).concat([[c.end[j], s[s.length - 1]]]);
    g.append("path").attr("d", line(pts)).attr("fill", "none").attr("stroke", colors[j]).attr("stroke-width", 1.3);
    c.cens[j].forEach(ct => {
      const sv = s[d3.bisectRight(t, ct) - 1];
      g.append("path").attr("d", `M${x(ct) - 2.2},${y(sv)}h4.4M${x(ct)},${y(sv) - 2.2}v4.4`)
        .attr("stroke", colors[j]).attr("stroke-width", 1);
    });
  });
  const ax = g.append("g").attr("transform", `translate(0,${c.yRange[0]})`)
    .call(d3.axisBottom(x).tickValues(c.ticks).tickFormat(d3.format("d")).tickSize(3).tickSizeOuter(0).tickPadding(2));
  styleAxis(ax, 10.5, "#000");
  const ay = g.append("g").attr("transform", `translate(${c.xRange[0]},0)`)
    .call(d3.axisLeft(y).tickValues([0, 0.25, 0.5, 0.75, 1]).tickFormat(d3.format(".2f")).tickSize(3).tickSizeOuter(0).tickPadding(2));
  styleAxis(ay, 10.5, "#000");
  addText(g, c.xTitleX, c.yRange[0] + 22.5, "Time(day)", 12, {anchor: "middle"});
  addText(g, c.yTitleX, (c.yRange[0] + c.yRange[1]) / 2, "Survival probability", 12, {anchor: "middle", rot: -90});
  c.stats.forEach((s, k) => addText(g, c.statPos[0], c.statPos[1] + k * c.statGap, s, 10));
  // legend
  const [lx, ly] = c.legend;
  addText(g, lx, ly + 4, "Risk Score", 11);
  [[lx + 55, "Low Risk"], [lx + 111.5, "High Risk"]].forEach(([kx, s], j) => {
    g.append("path").attr("d", `M${kx},${ly}h10M${kx + 5},${ly - 2.2}v4.4`).attr("stroke", colors[j]).attr("stroke-width", 1.3);
    addText(g, kx + 12.5, ly + 4, s, 11);
  });
  // number at risk table
  const tb = c.table;
  addText(g, c.xRange[0], tb.top, "Number at risk", 13);
  [c.lowRisk, c.highRisk].forEach((arr, j) => {
    const ry = tb.rows[j];
    g.selectAll(null).data(arr).join("text").attr("x", (d, i) => x(c.tableT[i])).attr("y", ry + 3.6)
      .attr("text-anchor", "middle").attr("font-size", 10).text(d => d);
    addText(g, c.xRange[0] - 3.5, ry + 3.6, groups[j], 9.5, {anchor: "end", fill: colors[j]});
    g.append("line").attr("x1", c.xRange[0] - 3).attr("x2", c.xRange[0]).attr("y1", ry).attr("y2", ry).attr("stroke", "#000").attr("stroke-width", 0.7);
  });
  g.append("line").attr("x1", c.xRange[0]).attr("x2", c.xRange[0]).attr("y1", tb.rows[0] - 5.5).attr("y2", tb.axis)
    .attr("stroke", "#000").attr("stroke-width", 0.7);
  const tx = g.append("g").attr("transform", `translate(0,${tb.axis})`)
    .call(d3.axisBottom(x).tickValues(c.ticks).tickFormat(d3.format("d")).tickSize(3).tickSizeOuter(0).tickPadding(2));
  styleAxis(tx, 10.5, "#000");
  addText(g, c.xTitleX, tb.axis + 21, "Time(day)", 12, {anchor: "middle"});
  addText(g, c.yTitleX - 1, (tb.rows[0] + tb.rows[1]) / 2, "Risk Score", 12, {anchor: "middle", rot: -90});
}
kmPanel({xDom: [-233, 5231], xRange: [583.3, 780], yDom: [-0.035, 1.047], yRange: [416, 301.7],
  curves: [[fLowT, fLowS], [fHighT, fHighS]], cens: [fLowCens, fHighCens], end: fEnd,
  ticks: fTableT, tableT: fTableT, lowRisk: fLowRisk, highRisk: fHighRisk, stats: fStats,
  statPos: [658.3, 315.5], statGap: 10.4, legend: [596, 282], xTitleX: 680, yTitleX: 541,
  table: {top: 458, rows: [468.3, 476.7], axis: 481}});
kmPanel({xDom: [-116, 2617], xRange: [586, 781.7], yDom: [-0.056, 1.054], yRange: [684.3, 566.7],
  curves: [[iLowT, iLowS], [iHighT, iHighS]], cens: [iLowCens, iHighCens], end: iEnd,
  ticks: iTableT, tableT: iTableT, lowRisk: iLowRisk, highRisk: iHighRisk, stats: iStats,
  statPos: [597.7, 644.5], statGap: 12.6, legend: [597.7, 546.7], xTitleX: 685, yTitleX: 542,
  table: {top: 724, rows: [735, 743.3], axis: 747.3}});
</script>
</body>
</html>
